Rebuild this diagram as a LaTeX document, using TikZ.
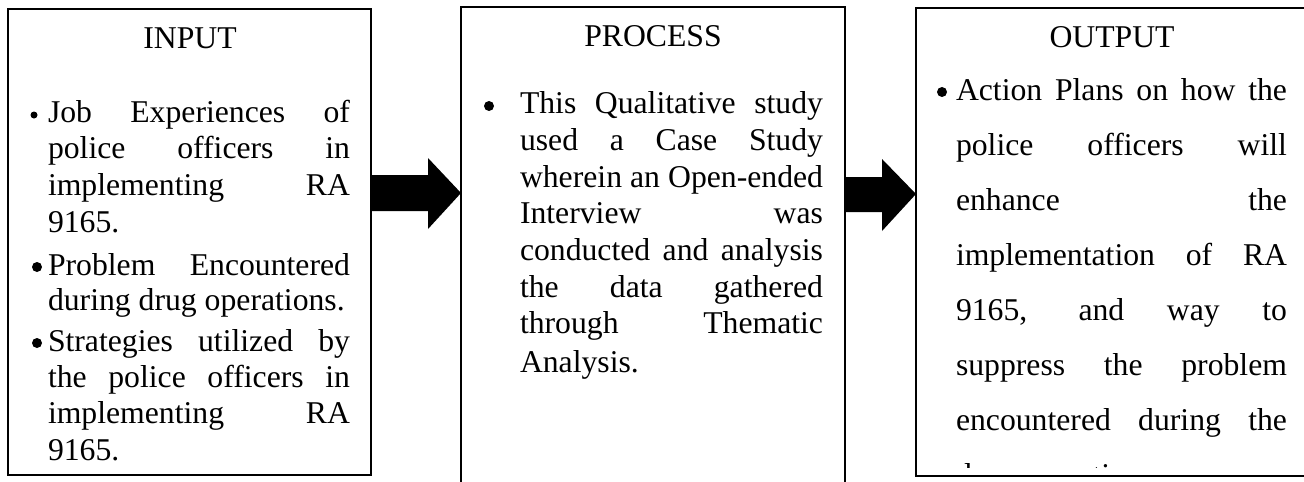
\documentclass[tikz,border=0pt]{standalone}
\usepackage{fontspec}
\setmainfont{Liberation Serif}
\newcommand\tline[4]{\node[txt] (#1) at (#2) {\makebox[#3][s]{#4}};}
\begin{document}
\begin{tikzpicture}[x=0.5pt,y=-0.5pt,
  every node/.style={font=\fontsize{15.85pt}{18pt}\selectfont},
  boxs/.style={draw,line width=1pt,rectangle,inner sep=0pt,outer sep=0pt},
  txt/.style={anchor=base west,inner sep=0pt,outer sep=0pt},
  ttl/.style={anchor=base,inner sep=0pt},
  arr/.style={fill=black},
  dot/.style={fill=black}]
\useasboundingbox (0,0) rectangle (1304,481);
\clip (0,0) rectangle (1304,481);
% boxes
\node[boxs,minimum width=181.5pt,minimum height=233pt] (in) at (189.5,242) {};
\node[boxs,minimum width=192pt,minimum height=246.5pt] (proc) at (653,253.5) {};
\node[boxs,minimum width=196pt,minimum height=234pt] (out) at (1112,242) {};
% arrows
\fill[arr] (in.east |- 0,175) -- (428,175) -- (428,158) -- (proc.west |- 0,193) -- (428,229) -- (428,211) -- (in.east |- 0,211) -- cycle;
\fill[arr] (proc.east |- 0,177) -- (882,177) -- (882,159) -- (out.west |- 0,194) -- (882,231) -- (882,212) -- (proc.east |- 0,212) -- cycle;
% titles
\node[ttl] (tin) at (190,49) {INPUT};
\node[ttl] (tproc) at (653,47) {PROCESS};
\node[ttl] (tout) at (1112,48) {OUTPUT};
% box 1
\fill[dot] (34,115) circle (3.5);
\fill[dot] (37,267) circle (5);
\fill[dot] (37,343) circle (5);
\tline{a1}{48,122}{151pt}{Job Experiences of}
\tline{a2}{48,158}{151pt}{police officers in}
\tline{a3}{48,195}{151pt}{implementing RA}
\node[txt] (a4) at (48,232) {9165.};
\tline{a5}{48,275}{151pt}{Problem Encountered}
\node[txt] (a6) at (48,310) {during drug operations.};
\tline{a7}{48,351}{151pt}{Strategies utilized by}
\tline{a8}{48,387}{151pt}{the police officers in}
\tline{a9}{48,423}{151pt}{implementing RA}
\node[txt] (a10) at (48,460) {9165.};
% box 2
\fill[dot] (489,106) circle (5);
\tline{b1}{520,113}{151.5pt}{This Qualitative study}
\tline{b2}{520,150}{151.5pt}{used a Case Study}
\tline{b3}{520,187}{151.5pt}{wherein an Open-ended}
\tline{b4}{520,223}{151.5pt}{Interview was}
\tline{b5}{520,260}{151.5pt}{conducted and analysis}
\tline{b6}{520,297}{151.5pt}{the data gathered}
\tline{b7}{520,333}{151.5pt}{through Thematic}
\node[txt] (b8) at (520,372) {Analysis.};
% box 3
\fill[dot] (942,92) circle (5);
\begin{scope}
\clip (916,0) rectangle (1308,467);
\tline{c1}{956,100}{165.5pt}{Action Plans on how the}
\tline{c2}{956,155}{165.5pt}{police officers will}
\tline{c3}{956,210}{165.5pt}{enhance the}
\tline{c4}{956,265}{165.5pt}{implementation of RA}
\tline{c5}{956,320}{165.5pt}{9165, and way to}
\tline{c6}{956,375}{165.5pt}{suppress the problem}
\tline{c7}{956,430}{165.5pt}{encountered during the}
\node[txt] (c8) at (956,485) {drug operations.};
\end{scope}
\end{tikzpicture}
\end{document}
